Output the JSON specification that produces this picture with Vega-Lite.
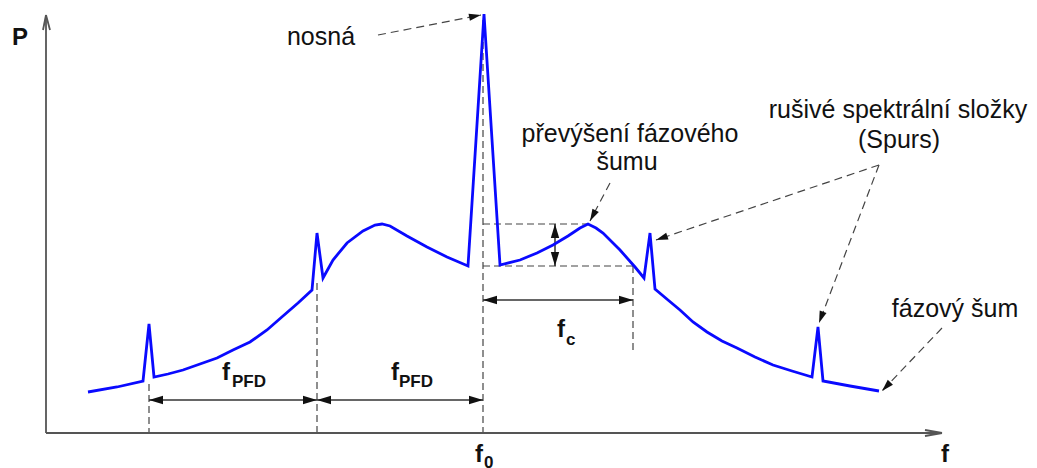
{
  "$schema": "https://vega.github.io/schema/vega-lite/v6.json",
  "width": 1037,
  "height": 468,
  "autosize": {"type": "none"},
  "padding": 0,
  "background": "white",
  "config": {"view": {"stroke": null}},
  "datasets": {
    "curve": [
      {"i": 0, "x": 88, "p": 76}, {"i": 1, "x": 117, "p": 81}, {"i": 2, "x": 143, "p": 87},
      {"i": 3, "x": 149, "p": 144}, {"i": 4, "x": 154, "p": 91}, {"i": 5, "x": 168, "p": 94},
      {"i": 6, "x": 183, "p": 98}, {"i": 7, "x": 200, "p": 104}, {"i": 8, "x": 217, "p": 110},
      {"i": 9, "x": 233, "p": 118}, {"i": 10, "x": 250, "p": 126}, {"i": 11, "x": 267, "p": 138},
      {"i": 12, "x": 283, "p": 152}, {"i": 13, "x": 298, "p": 165}, {"i": 14, "x": 312, "p": 178},
      {"i": 15, "x": 317, "p": 235}, {"i": 16, "x": 323, "p": 190}, {"i": 17, "x": 333, "p": 208},
      {"i": 18, "x": 347, "p": 225}, {"i": 19, "x": 363, "p": 237}, {"i": 20, "x": 375, "p": 243},
      {"i": 21, "x": 382, "p": 244}, {"i": 22, "x": 390, "p": 242}, {"i": 23, "x": 407, "p": 232},
      {"i": 24, "x": 427, "p": 221}, {"i": 25, "x": 447, "p": 211}, {"i": 26, "x": 468, "p": 202},
      {"i": 27, "x": 484, "p": 454}, {"i": 28, "x": 500, "p": 203}, {"i": 29, "x": 520, "p": 208},
      {"i": 30, "x": 537, "p": 215}, {"i": 31, "x": 553, "p": 223}, {"i": 32, "x": 568, "p": 232},
      {"i": 33, "x": 580, "p": 240}, {"i": 34, "x": 588, "p": 244}, {"i": 35, "x": 596, "p": 240},
      {"i": 36, "x": 603, "p": 235}, {"i": 37, "x": 620, "p": 218}, {"i": 38, "x": 635, "p": 201},
      {"i": 39, "x": 644, "p": 190}, {"i": 40, "x": 650, "p": 235}, {"i": 41, "x": 655, "p": 179},
      {"i": 42, "x": 668, "p": 168}, {"i": 43, "x": 680, "p": 158}, {"i": 44, "x": 693, "p": 146},
      {"i": 45, "x": 707, "p": 136}, {"i": 46, "x": 722, "p": 127}, {"i": 47, "x": 737, "p": 120},
      {"i": 48, "x": 755, "p": 111}, {"i": 49, "x": 773, "p": 103}, {"i": 50, "x": 792, "p": 97},
      {"i": 51, "x": 812, "p": 91}, {"i": 52, "x": 818, "p": 141}, {"i": 53, "x": 823, "p": 87},
      {"i": 54, "x": 850, "p": 82}, {"i": 55, "x": 879, "p": 77}
    ],
    "segs": [
      {"kind": "axis", "x": 46, "p": 35, "x2": 46, "p2": 453},
      {"kind": "axis", "x": 46, "p": 35, "x2": 942, "p2": 35},
      {"kind": "axis", "x": 43, "p": 438, "x2": 46, "p2": 453},
      {"kind": "axis", "x": 50, "p": 438, "x2": 46, "p2": 453},
      {"kind": "axis", "x": 925, "p": 38, "x2": 942, "p2": 35},
      {"kind": "axis", "x": 925, "p": 32, "x2": 942, "p2": 35},
      {"kind": "guide", "x": 149, "p": 84, "x2": 149, "p2": 35},
      {"kind": "guide", "x": 317, "p": 185, "x2": 317, "p2": 35},
      {"kind": "guide", "x": 483, "p": 448, "x2": 483, "p2": 35},
      {"kind": "guide", "x": 633, "p": 202, "x2": 633, "p2": 118},
      {"kind": "guide", "x": 483, "p": 244, "x2": 588, "p2": 244},
      {"kind": "guide", "x": 483, "p": 202, "x2": 633, "p2": 202},
      {"kind": "dim", "x": 149, "p": 68, "x2": 317, "p2": 68},
      {"kind": "dim", "x": 317, "p": 68, "x2": 483, "p2": 68},
      {"kind": "dim", "x": 483, "p": 168, "x2": 633, "p2": 168},
      {"kind": "dim", "x": 555, "p": 244, "x2": 555, "p2": 202},
      {"kind": "note", "x": 378, "p": 433, "x2": 481, "p2": 453},
      {"kind": "note", "x": 610, "p": 285, "x2": 590, "p2": 247},
      {"kind": "note", "x": 879, "p": 303, "x2": 656, "p2": 228},
      {"kind": "note", "x": 879, "p": 303, "x2": 819, "p2": 145},
      {"kind": "note", "x": 942, "p": 140, "x2": 882, "p2": 77}
    ],
    "heads": [
      {"kind": "dim", "x": 149, "p": 68, "a": 180},
      {"kind": "dim", "x": 317, "p": 68, "a": 0},
      {"kind": "dim", "x": 317, "p": 68, "a": 180},
      {"kind": "dim", "x": 483, "p": 68, "a": 0},
      {"kind": "dim", "x": 483, "p": 168, "a": 180},
      {"kind": "dim", "x": 633, "p": 168, "a": 0},
      {"kind": "dim", "x": 555, "p": 244, "a": -90},
      {"kind": "dim", "x": 555, "p": 202, "a": 90},
      {"kind": "note", "x": 481, "p": 453, "a": -11},
      {"kind": "note", "x": 590, "p": 247, "a": 118},
      {"kind": "note", "x": 656, "p": 228, "a": 161},
      {"kind": "note", "x": 819, "p": 145, "a": 110},
      {"kind": "note", "x": 882, "p": 77, "a": 134}
    ],
    "labels": [
      {"kind": "reg", "x": 321, "p": 423, "t": "nosná"},
      {"kind": "reg", "x": 630, "p": 326, "t": "převýšení fázového"},
      {"kind": "reg", "x": 627, "p": 298, "t": "šumu"},
      {"kind": "reg", "x": 898, "p": 350, "t": "rušivé spektrální složky"},
      {"kind": "reg", "x": 899, "p": 320, "t": "(Spurs)"},
      {"kind": "reg", "x": 955, "p": 151, "t": "fázový šum"},
      {"kind": "big", "x": 12, "p": 423, "t": "P"},
      {"kind": "big", "x": 941, "p": 6, "t": "f"},
      {"kind": "big", "x": 222, "p": 88, "t": "f"},
      {"kind": "big", "x": 391, "p": 88, "t": "f"},
      {"kind": "big", "x": 557, "p": 131, "t": "f"},
      {"kind": "big", "x": 475, "p": 6, "t": "f"},
      {"kind": "sub", "x": 232, "p": 81, "t": "PFD"},
      {"kind": "sub", "x": 399, "p": 81, "t": "PFD"},
      {"kind": "sub", "x": 566, "p": 123, "t": "c"},
      {"kind": "sub", "x": 484, "p": 0, "t": "0"}
    ]
  },
  "encoding": {
    "x": {"field": "x", "type": "quantitative", "scale": {"domain": [0, 1037], "nice": false, "zero": false}, "axis": null},
    "y": {"field": "p", "type": "quantitative", "scale": {"domain": [0, 468], "nice": false, "zero": false}, "axis": null}
  },
  "layer": [
    {
      "data": {"name": "segs"},
      "transform": [{"filter": "datum.kind === 'guide'"}],
      "mark": {"type": "rule", "color": "#444444", "strokeWidth": 1.2, "strokeDash": [7, 4]},
      "encoding": {"x2": {"field": "x2"}, "y2": {"field": "p2"}}
    },
    {
      "data": {"name": "segs"},
      "transform": [{"filter": "datum.kind === 'note'"}],
      "mark": {"type": "rule", "color": "#444444", "strokeWidth": 1.2, "strokeDash": [8, 5]},
      "encoding": {"x2": {"field": "x2"}, "y2": {"field": "p2"}}
    },
    {
      "data": {"name": "segs"},
      "transform": [{"filter": "datum.kind === 'dim'"}],
      "mark": {"type": "rule", "color": "#333333", "strokeWidth": 1.5},
      "encoding": {"x2": {"field": "x2"}, "y2": {"field": "p2"}}
    },
    {
      "data": {"name": "segs"},
      "transform": [{"filter": "datum.kind === 'axis'"}],
      "mark": {"type": "rule", "color": "#555555", "strokeWidth": 1.8},
      "encoding": {"x2": {"field": "x2"}, "y2": {"field": "p2"}}
    },
    {
      "data": {"name": "curve"},
      "mark": {"type": "line", "color": "#0a0aff", "strokeWidth": 2.8, "strokeJoin": "miter", "strokeMiterLimit": 8},
      "encoding": {"order": {"field": "i", "type": "quantitative"}}
    },
    {
      "data": {"name": "heads"},
      "transform": [{"filter": "datum.kind === 'dim'"}],
      "mark": {"type": "point", "shape": "M0,0 L-1,-0.3 L-1,0.3 Z", "size": 784, "filled": true, "fill": "#111111", "opacity": 1, "strokeWidth": 0},
      "encoding": {"angle": {"field": "a", "type": "quantitative", "scale": null}}
    },
    {
      "data": {"name": "heads"},
      "transform": [{"filter": "datum.kind === 'note'"}],
      "mark": {"type": "point", "shape": "M0,0 L-1,-0.3 L-1,0.3 Z", "size": 576, "filled": true, "fill": "#111111", "opacity": 1, "strokeWidth": 0},
      "encoding": {"angle": {"field": "a", "type": "quantitative", "scale": null}}
    },
    {
      "data": {"name": "labels"},
      "transform": [{"filter": "datum.kind === 'reg'"}],
      "mark": {"type": "text", "font": "Liberation Sans", "fontSize": 25, "align": "center", "baseline": "alphabetic", "color": "#111111"},
      "encoding": {"text": {"field": "t"}}
    },
    {
      "data": {"name": "labels"},
      "transform": [{"filter": "datum.kind === 'big'"}],
      "mark": {"type": "text", "font": "Liberation Sans", "fontSize": 24, "fontWeight": "bold", "align": "left", "baseline": "alphabetic", "color": "#111111"},
      "encoding": {"text": {"field": "t"}}
    },
    {
      "data": {"name": "labels"},
      "transform": [{"filter": "datum.kind === 'sub'"}],
      "mark": {"type": "text", "font": "Liberation Sans", "fontSize": 17, "fontWeight": "bold", "align": "left", "baseline": "alphabetic", "color": "#111111"},
      "encoding": {"text": {"field": "t"}}
    }
  ]
}
